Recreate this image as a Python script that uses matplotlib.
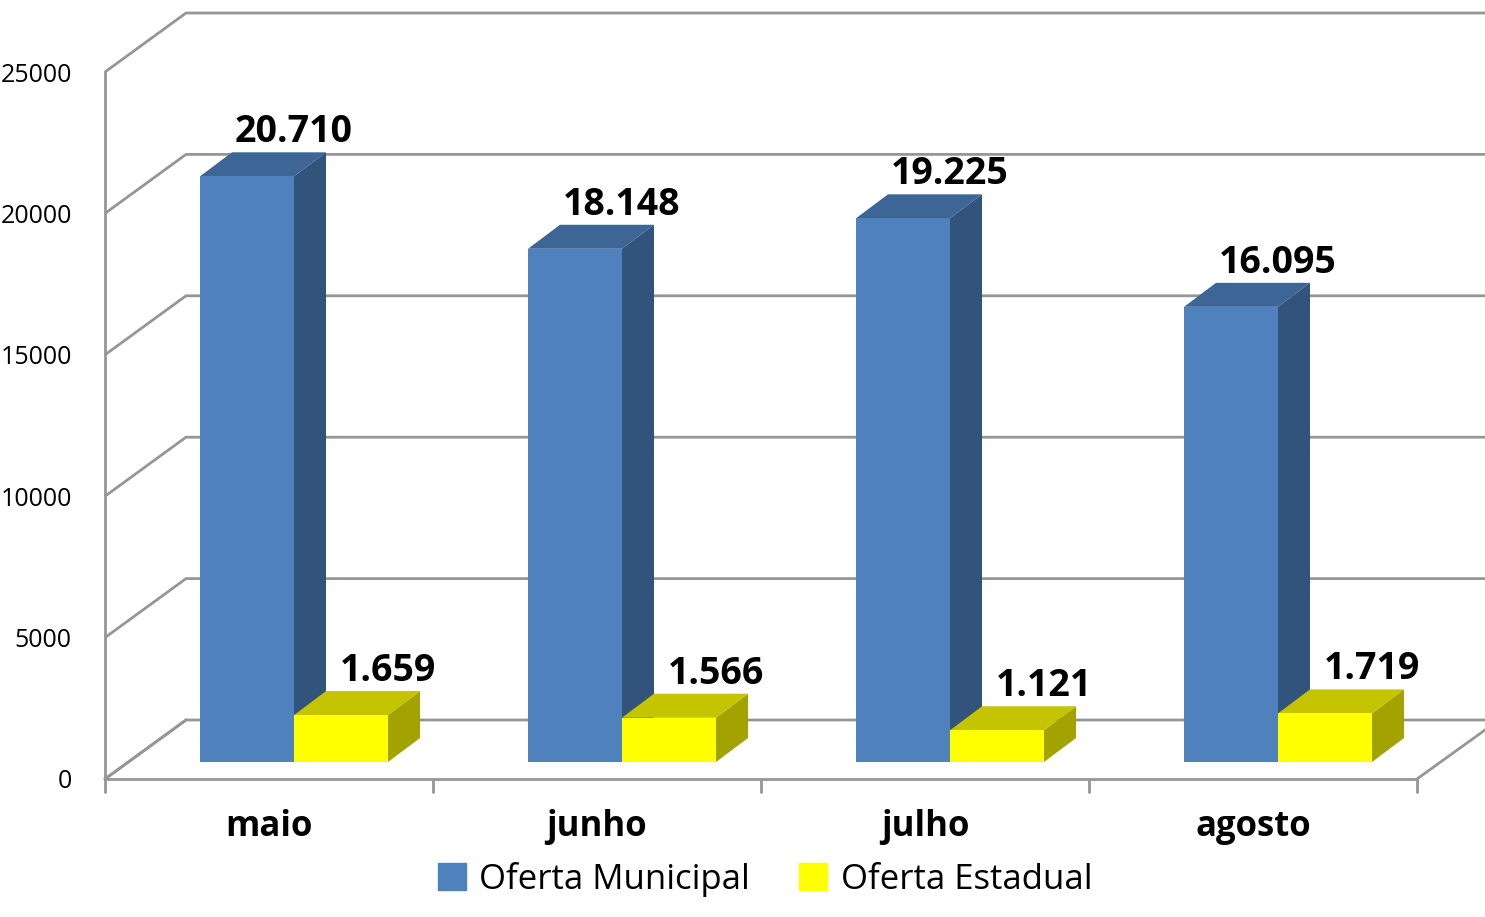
import matplotlib
matplotlib.use("Agg")
import matplotlib.pyplot as plt

meses = ["maio", "junho", "julho", "agosto"]
municipal = [20710, 18148, 19225, 16095]
estadual = [1659, 1566, 1121, 1719]
rotulos_mun = ["20.710", "18.148", "19.225", "16.095"]
rotulos_est = ["1.659", "1.566", "1.121", "1.719"]
y_ticks = [0, 5000, 10000, 15000, 20000, 25000]

W, H = 1485, 917
GRID = "#969696"

plt.rcParams["font.family"] = ["Open Sans", "DejaVu Sans"]

fig = plt.figure(figsize=(W / 100, H / 100), dpi=100)
ax = fig.add_axes([105 / W, 1 - 779 / H, (1417 - 105) / W, (779 - 72) / H])
ax.set_xlim(0, 4)
ax.set_ylim(0, 25000)
ax.patch.set_visible(False)

# pixel -> data sizes
px_x = 4 / (1417 - 105)
px_y = 25000 / (779 - 72)


def box(x0, width, h, front, side, top):
    base = 17 * px_y
    dx, dy = 32 * px_x, 24 * px_y
    x1 = x0 + width
    y0, y1 = base, base + h
    ax.fill([x1, x1 + dx, x1 + dx, x1], [y0, y0 + dy, y1 + dy, y1], color=side, lw=0, clip_on=False, zorder=3)
    ax.fill([x0, x1, x1 + dx, x0 + dx], [y1, y1, y1 + dy, y1 + dy], color=top, lw=0, clip_on=False, zorder=3)
    ax.fill([x0, x1, x1, x0], [y0, y0, y1, y1], color=front, lw=0, clip_on=False, zorder=3)


# back wall and floor
wall_dx, wall_dy = 81 * px_x, 59 * px_y
right_edge = (W - 105) * px_x
for t in y_ticks:
    ax.plot([0, wall_dx, right_edge], [t, t + wall_dy, t + wall_dy], color=GRID, lw=2, clip_on=False, zorder=1, solid_capstyle="butt")
ax.plot([0, wall_dx], [0, wall_dy], color=GRID, lw=2, clip_on=False, zorder=1)
ax.plot([4, 4 + 68 * px_x], [0, 49 * px_y], color=GRID, lw=2, clip_on=False, zorder=1)

bar_w = 94 * px_x
shift = 95 * px_x
for i in range(len(meses)):
    x_blue = i + shift
    x_yel = x_blue + bar_w
    box(x_blue, bar_w, municipal[i], "#4f81bd", "#31537c", "#3d6596")
    box(x_yel, bar_w, estadual[i], "#ffff00", "#a3a300", "#c4c400")
    ax.text(x_blue + bar_w + 0 * px_x, municipal[i] + 25 * px_y + 17 * px_y, rotulos_mun[i], ha="center", va="bottom",
            fontsize=27, fontweight="bold", family="Open Sans", color="black", zorder=5, clip_on=False)
    ax.text(x_yel + bar_w + 0 * px_x, estadual[i] + 25 * px_y + 17 * px_y, rotulos_est[i], ha="center", va="bottom",
            fontsize=27, fontweight="bold", family="Open Sans", color="black", zorder=5, clip_on=False)

for s in ["top", "right"]:
    ax.spines[s].set_visible(False)
for s in ["left", "bottom"]:
    ax.spines[s].set_color(GRID)
    ax.spines[s].set_linewidth(2)

ax.set_yticks(y_ticks)
ax.set_yticklabels([str(t) for t in y_ticks], fontsize=18)
ax.tick_params(axis="y", length=0, pad=24)
ax.set_xticks(range(5))
ax.set_xticklabels([])
ax.tick_params(axis="x", length=10, width=2, color=GRID)
for i, m in enumerate(meses):
    ax.text(i + 0.5, -1700, m, ha="center", va="center", fontsize=25, fontweight="bold", clip_on=False)

# legend
handles = [plt.Rectangle((0, 0), 1, 1, color="#4f81bd"), plt.Rectangle((0, 0), 1, 1, color="#ffff00")]
fig.legend(handles, ["Oferta Municipal", "Oferta Estadual"], loc="lower center", bbox_to_anchor=(765 / W, -0.012), ncol=2,
           frameon=False, fontsize=25, handlelength=0.8, handleheight=0.8, handletextpad=0.4, columnspacing=1.4)

fig.savefig("out.png", dpi=100)
